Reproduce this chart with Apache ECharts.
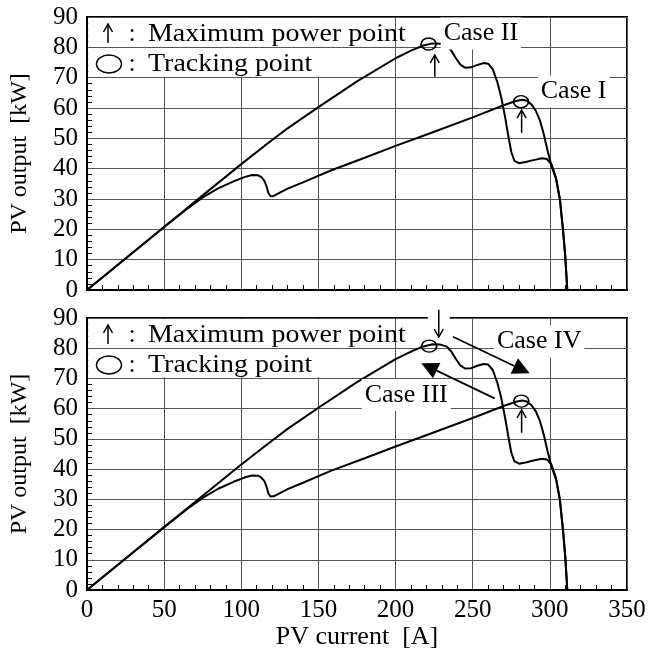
<!DOCTYPE html>
<html>
<head>
<meta charset="utf-8">
<script src="https://cdn.jsdelivr.net/npm/echarts@6/dist/echarts.min.js"></script>
<style>
  html, body { margin: 0; padding: 0; background: #fff; }
  #main { width: 650px; height: 653px; }
</style>
</head>
<body>
<div id="main"></div>
<script>
const FONT = '"Liberation Serif", "Times New Roman", serif';

// P-I curves, [current A, output kW] - same curves in both panels
const curveHigh = [
  [0, 0], [25, 10.4], [50, 20.8], [75, 31.2], [100, 41.5], [115, 47.5], [130, 53.3],
  [150, 60.3], [175, 68.8], [200, 76.4], [210, 78.9], [218, 80.6], [224, 81.3], [229, 81.2],
  [233, 80.6], [236, 79], [239, 76.5], [242, 74.3], [245, 73.3], [249, 73.4],
  [253, 74.2], [257, 74.8], [260, 74.6], [263, 72.8], [266, 68.5], [268.5, 63.5],
  [271, 57], [273, 51], [275, 45.5], [277, 42.6], [280, 41.8], [285, 42.3],
  [290, 42.9], [295, 43.4], [298, 43.2], [301, 41.5], [304, 37], [306.5, 30],
  [308.5, 20], [310, 11], [311.3, 0]
];
const curveLow = [
  [0, 0], [25, 10.4], [50, 20.8], [65, 26.8], [75, 30.5], [85, 33.5], [95, 35.8],
  [102, 37.2], [107, 37.9], [111, 37.8], [113, 37.2], [115, 36], [116.5, 34],
  [117.5, 32], [119, 30.9], [121, 31], [130, 33.4], [140, 35.5], [158, 39.4],
  [180, 43.6], [200, 47.5], [222, 51.6], [250, 56.9], [270, 60.9], [278, 62.3],
  [282, 62.7], [285, 62.4], [288, 61.2], [291, 59], [293.5, 56], [296, 51.5],
  [298.5, 46], [301, 41], [304, 36.6], [306.5, 29.8], [308.5, 19.8], [310, 10.9],
  [311.3, 0]
];

// tracking points (circles)
const trackTop = [[221.4, 81.1], [281.3, 62.1]];
const trackBottom = [[221.8, 80.7], [281.5, 62.5]];
// maximum power point arrows, [from, to]
const mppArrowsTop = [[[225.4, 70.3], [225.4, 77.5]], [[281.7, 51.8], [281.7, 59.3]]];
const mppArrowsBottom = [[[281.7, 52], [281.7, 59.6]]];
const downArrowBottom = [[[228, 92.7], [228, 83.7]]];
// case labels
const casesTop = [['Case II', 255.3, 84.6], ['Case I', 315.4, 65.4]];
const casesBottom = [['Case IV', 293.1, 82.2], ['Case III', 206.9, 64.5]];
// search direction arrows (bottom panel)
const searchArrows = [
  [[237.2, 83.8], [286.9, 71.7]],
  [[264.2, 63.4], [216.7, 75.0]]
];

const xTicks = { min: 0, max: 350, interval: 50 };
const yTicks = { min: 0, max: 90, interval: 10 };
const legendBox = { x0: 0.8, x1: 165, y0: 70.4, y1: 89.6, gridY: 80 };

const gridTops = [17, 318];
const gridHeights = [273, 272];

function axesFor(gi) {
  const xAxis = {
    type: 'value', gridIndex: gi, ...xTicks,
    axisLine: { show: true, lineStyle: { color: '#000', width: 2 } },
    axisTick: { show: false, inside: true },
    minorTick: { show: true, splitNumber: 5, length: 5, lineStyle: { color: '#000', width: 1 } },
    splitLine: { show: true, lineStyle: { color: '#555', width: 1 } },
    axisLabel: { show: gi === 1, color: '#000', fontFamily: FONT, fontSize: 25, margin: 8 }
  };
  if (gi === 1) {
    xAxis.name = 'PV current  [A]';
    xAxis.nameLocation = 'middle';
    xAxis.nameGap = 31;
    xAxis.nameTextStyle = { color: '#000', fontFamily: FONT, fontSize: 26 };
  }
  const yAxis = {
    type: 'value', gridIndex: gi, ...yTicks,
    name: 'PV output  [kW]', nameLocation: 'middle', nameGap: 55, nameRotate: 90,
    nameTextStyle: { color: '#000', fontFamily: FONT, fontSize: 24 },
    axisLine: { show: true, lineStyle: { color: '#000', width: 2 } },
    axisTick: { show: false, inside: true },
    minorTick: { show: true, splitNumber: 5, length: 5, lineStyle: { color: '#000', width: 1 } },
    splitLine: { show: true, lineStyle: { color: '#555', width: 1 } },
    axisLabel: { color: '#000', fontFamily: FONT, fontSize: 25, margin: 9 }
  };
  return { xAxis, yAxis };
}

// arrows drawn from data coords: open chevron head or filled triangle head
function arrowSeries(gi, arrows, filled, gap) {
  return {
    type: 'custom', coordinateSystem: 'cartesian2d', xAxisIndex: gi, yAxisIndex: gi,
    clip: false, silent: true, z: 6,
    encode: { x: [0, 2], y: [1, 3] },
    data: arrows.map(a => [a[0][0], a[0][1], a[1][0], a[1][1]]),
    renderItem: (params, api) => {
      const p0 = api.coord([api.value(0), api.value(1)]);
      const p1 = api.coord([api.value(2), api.value(3)]);
      const dx = p1[0] - p0[0], dy = p1[1] - p0[1];
      const len = Math.sqrt(dx * dx + dy * dy);
      const ux = dx / len, uy = dy / len, nx = -uy, ny = ux;
      const hl = filled ? 17 : 8, hw = filled ? 8.5 : 4.5;
      const base = [p1[0] - ux * hl, p1[1] - uy * hl];
      const left = [base[0] + nx * hw, base[1] + ny * hw];
      const right = [base[0] - nx * hw, base[1] - ny * hw];
      const children = [];
      if (gap) {
        const top = api.coord([api.value(0), yTicks.max]);
        children.push({ type: 'rect', shape: { x: top[0] - 11, y: top[1] - 3, width: 22, height: 6 },
          style: { fill: '#fff' } });
      }
      children.push({ type: 'line', shape: { x1: p0[0], y1: p0[1], x2: filled ? base[0] : p1[0], y2: filled ? base[1] : p1[1] },
        style: { stroke: '#000', lineWidth: filled ? 1.8 : 1.5 } });
      if (filled) {
        children.push({ type: 'polygon', shape: { points: [left, p1, right] }, style: { fill: '#000' } });
      } else {
        children.push({ type: 'polyline', shape: { points: [left, p1, right] },
          style: { stroke: '#000', lineWidth: 1.5, fill: null } });
      }
      return { type: 'group', children };
    }
  };
}

function seriesFor(gi) {
  const track = gi === 0 ? trackTop : trackBottom;
  const mpp = gi === 0 ? mppArrowsTop : mppArrowsBottom;
  const cases = gi === 0 ? casesTop : casesBottom;
  const list = [
    {
      type: 'line', xAxisIndex: gi, yAxisIndex: gi, data: curveHigh, showSymbol: false,
      lineStyle: { color: '#000', width: 2 }, silent: true,
      markArea: {
        silent: true, itemStyle: { color: '#fff' },
        data: [[{ coord: [legendBox.x0, legendBox.y0] }, { coord: [legendBox.x1, legendBox.y1] }]]
      },
      markLine: {
        silent: true, symbol: 'none', label: { show: false },
        lineStyle: { color: '#555', width: 1, type: 'solid' },
        data: [[{ coord: [legendBox.x0, legendBox.gridY] }, { coord: [legendBox.x1, legendBox.gridY] }]]
      }
    },
    {
      type: 'line', xAxisIndex: gi, yAxisIndex: gi, data: curveLow, showSymbol: false,
      lineStyle: { color: '#000', width: 2 }, silent: true
    },
    {
      type: 'scatter', xAxisIndex: gi, yAxisIndex: gi, z: 4, silent: true,
      symbol: 'circle', symbolSize: [15, 12], data: track,
      itemStyle: { color: 'rgba(0,0,0,0)', borderColor: '#000', borderWidth: 1.6, opacity: 1 }
    },
    {
      type: 'scatter', xAxisIndex: gi, yAxisIndex: gi, z: 5, silent: true,
      symbolSize: 1, itemStyle: { color: 'rgba(0,0,0,0)', opacity: 1 },
      data: cases.map(c => ({ name: c[0], value: [c[1], c[2]] })),
      label: {
        show: true, position: 'inside', color: '#000', fontFamily: FONT, fontSize: 26,
        backgroundColor: '#fff', padding: [4, 3, 2, 3], formatter: p => p.name
      }
    },
    arrowSeries(gi, mpp, false, false)
  ];
  if (gi === 1) {
    list.push(arrowSeries(gi, downArrowBottom, false, true));
    list.push(arrowSeries(gi, searchArrows, true, false));
  }
  return list;
}

function legendGraphics(top) {
  const t = { fill: '#000', fontFamily: FONT, fontSize: 26, verticalAlign: 'middle' };
  const s = { stroke: '#000', lineWidth: 1.5, fill: null };
  return [
    { type: 'line', z: 10, shape: { x1: 108, y1: top + 26, x2: 108, y2: top + 7 }, style: s },
    { type: 'polyline', z: 10, shape: { points: [[103.5, top + 15], [108, top + 7], [112.5, top + 15]] }, style: s },
    { type: 'text', x: 132, y: top + 17, z: 10, style: Object.assign({ text: ':', align: 'center' }, t) },
    { type: 'text', x: 148, y: top + 17, z: 10, scaleX: 1.075,
      style: Object.assign({ text: 'Maximum power point', align: 'left' }, t) },
    { type: 'ellipse', z: 10, shape: { cx: 109, cy: top + 47, rx: 12.5, ry: 9 },
      style: { fill: 'none', stroke: '#000', lineWidth: 1.5 } },
    { type: 'text', x: 132, y: top + 47, z: 10, style: Object.assign({ text: ':', align: 'center' }, t) },
    { type: 'text', x: 148, y: top + 47, z: 10, scaleX: 1.075,
      style: Object.assign({ text: 'Tracking point', align: 'left' }, t) }
  ];
}

const a0 = axesFor(0), a1 = axesFor(1);
const option = {
  animation: false,
  backgroundColor: '#fff',
  grid: [
    { left: 87, width: 540, top: gridTops[0], height: gridHeights[0], show: true, borderColor: '#000', borderWidth: 2 },
    { left: 87, width: 540, top: gridTops[1], height: gridHeights[1], show: true, borderColor: '#000', borderWidth: 2 }
  ],
  xAxis: [a0.xAxis, a1.xAxis],
  yAxis: [a0.yAxis, a1.yAxis],
  series: seriesFor(0).concat(seriesFor(1)),
  graphic: legendGraphics(gridTops[0]).concat(legendGraphics(gridTops[1]))
};

const chart = echarts.init(document.getElementById('main'), null, { renderer: 'canvas' });
chart.setOption(option);
</script>
</body>
</html>
